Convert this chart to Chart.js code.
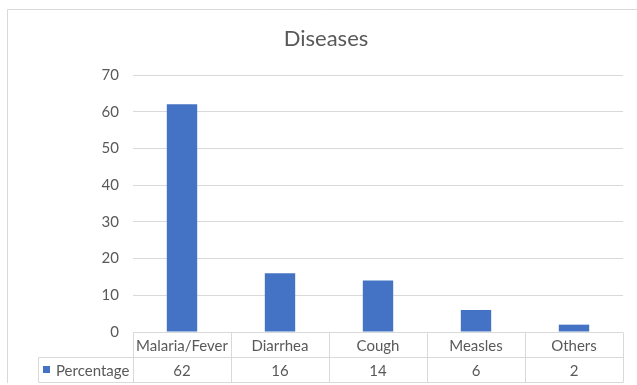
<!DOCTYPE html>
<html>
<head>
<meta charset="utf-8">
<script src="https://cdn.jsdelivr.net/npm/chart.js@4"></script>
<style>
  html, body { margin: 0; padding: 0; background: #fff; }
  #wrap { width: 637px; height: 385px; }
</style>
</head>
<body>
<div id="wrap"><canvas id="c" width="637" height="385"></canvas></div>
<script>
// Chart data
const chartTitle = 'Diseases';
const seriesName = 'Percentage';
const categories = ['Malaria/Fever', 'Diarrhea', 'Cough', 'Measles', 'Others'];
const percentages = [62, 16, 14, 6, 2];
const yTicks = [0, 10, 20, 30, 40, 50, 60, 70];

const FONT = 'Lato, "Open Sans", sans-serif';
const TEXT = '#595959';
const LINE = '#d9d9d9';
const BAR = '#4472C4';

// Frame, title and the data table under the plot
const tablePlugin = {
  id: 'dataTable',
  beforeDraw(chart) {
    const ctx = chart.ctx;
    ctx.save();
    ctx.fillStyle = '#fff';
    ctx.fillRect(0, 0, chart.width, chart.height);
    ctx.strokeStyle = LINE;
    ctx.lineWidth = 1;
    ctx.beginPath();
    ctx.moveTo(7.5, 383);
    ctx.lineTo(7.5, 9.5);
    ctx.lineTo(chart.width, 9.5);
    ctx.stroke();
    ctx.fillStyle = TEXT;
    ctx.font = '22px ' + FONT;
    ctx.textAlign = 'center';
    ctx.textBaseline = 'middle';
    ctx.fillText(chartTitle, 326, 39);
    ctx.restore();
  },
  afterDraw(chart) {
    const ctx = chart.ctx;
    const x = chart.scales.x;
    const area = chart.chartArea;
    const step = (area.right - area.left) / categories.length;
    const top = Math.round(area.bottom) + 0.5;
    const rowH = 25;
    const labelLeft = 38.5;
    ctx.save();
    ctx.strokeStyle = LINE;
    ctx.lineWidth = 1;
    ctx.beginPath();
    ctx.moveTo(area.left, top); ctx.lineTo(area.right, top);
    ctx.moveTo(labelLeft, top + rowH); ctx.lineTo(area.right, top + rowH);
    ctx.moveTo(labelLeft, top + 2 * rowH); ctx.lineTo(area.right, top + 2 * rowH);
    ctx.moveTo(labelLeft, top + rowH); ctx.lineTo(labelLeft, top + 2 * rowH);
    for (let i = 0; i <= categories.length; i++) {
      const px = Math.round(area.left + i * step) + 0.5;
      ctx.moveTo(px, top); ctx.lineTo(px, top + 2 * rowH);
    }
    ctx.stroke();

    ctx.fillStyle = TEXT;
    ctx.font = '15px ' + FONT;
    ctx.textAlign = 'center';
    ctx.textBaseline = 'middle';
    categories.forEach((c, i) => {
      const cx = x.getPixelForValue(i);
      ctx.fillText(c, cx, top + rowH / 2 + 1);
      ctx.fillText(String(percentages[i]), cx, top + rowH * 1.5 + 1);
    });
    // legend key + series name
    ctx.fillStyle = BAR;
    ctx.fillRect(43, top + rowH + 8.5, 7, 7);
    ctx.fillStyle = TEXT;
    ctx.textAlign = 'left';
    ctx.fillText(seriesName, 56, top + rowH * 1.5 + 1);
    ctx.restore();
  }
};

new Chart(document.getElementById('c'), {
  type: 'bar',
  data: {
    labels: categories,
    datasets: [{
      label: seriesName,
      data: percentages,
      backgroundColor: BAR,
      barPercentage: 0.31,
      categoryPercentage: 1
    }]
  },
  options: {
    responsive: false,
    animation: false,
    devicePixelRatio: 1,
    layout: { padding: { top: 75, right: 14, left: 0, bottom: 0 } },
    plugins: {
      legend: { display: false },
      title: { display: false },
      tooltip: { enabled: false }
    },
    scales: {
      x: {
        grid: { display: false },
        border: { display: false },
        ticks: { display: false },
        afterFit(scale) { scale.height = 53; }
      },
      y: {
        min: 0,
        max: 70,
        afterBuildTicks(scale) { scale.ticks = yTicks.map(v => ({ value: v })); },
        grid: { color: LINE, lineWidth: 1, drawTicks: false },
        border: { display: false },
        ticks: { color: TEXT, font: { family: FONT, size: 15 }, padding: 14 },
        afterFit(scale) { scale.width = 133; }
      }
    }
  },
  plugins: [tablePlugin]
});
</script>
</body>
</html>
